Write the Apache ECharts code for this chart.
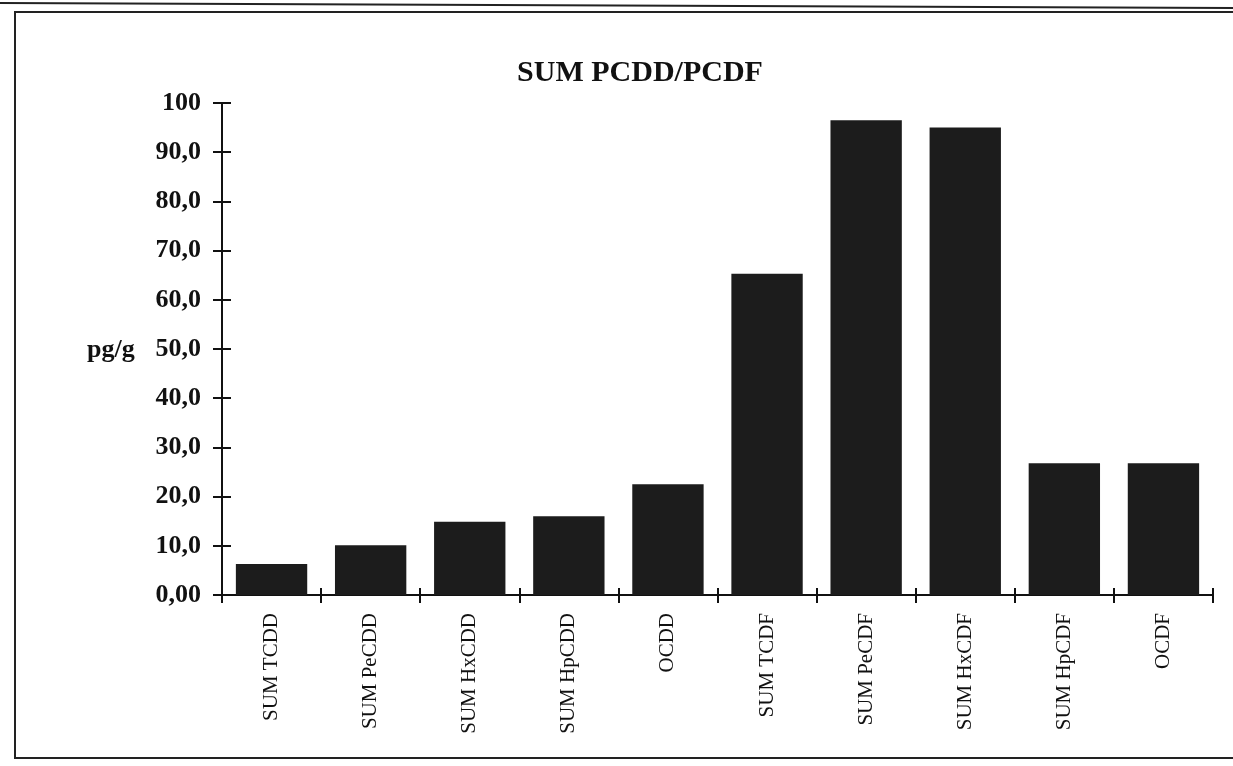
<!DOCTYPE html>
<html>
<head>
<meta charset="utf-8">
<script src="https://cdn.jsdelivr.net/npm/echarts@6/dist/echarts.min.js"></script>
<style>html,body{margin:0;padding:0;background:#fff;}#c{width:1233px;height:766px;}</style>
</head>
<body>
<div id="c"></div>
<script>
const categories = ['SUM TCDD','SUM PeCDD','SUM HxCDD','SUM HpCDD','OCDD','SUM TCDF','SUM PeCDF','SUM HxCDF','SUM HpCDF','OCDF'];
const values = [6.3, 10.1, 14.9, 16.0, 22.5, 65.3, 96.5, 95.0, 26.8, 26.8];
const yTickLabels = {0:'0,00',10:'10,0',20:'20,0',30:'30,0',40:'40,0',50:'50,0',60:'60,0',70:'70,0',80:'80,0',90:'90,0',100:'100'};
const titleText = 'SUM PCDD/PCDF';
const unitText = 'pg/g';

const chart = echarts.init(document.getElementById('c'), null, {renderer:'canvas'});
const serif = '"Liberation Serif", "DejaVu Serif", serif';
chart.setOption({
  animation:false,
  backgroundColor:'#fff',
  title:{text:titleText,left:635,top:53,textAlign:'center',textStyle:{fontFamily:serif,fontWeight:'bold',fontSize:30,color:'#111'}},
  grid:{left:222,right:20,top:103,bottom:171},
  xAxis:[{
    type:'category',data:categories,
    axisLine:{lineStyle:{color:'#111',width:2}},
    axisTick:{show:true,length:8,lineStyle:{color:'#111',width:2}},
    axisLabel:{rotate:90,margin:18,fontFamily:serif,fontSize:21,color:'#111'}
  },{
    type:'category',data:categories,position:'bottom',
    axisLine:{show:false},
    axisTick:{show:true,inside:true,length:7,lineStyle:{color:'#111',width:2}},
    axisLabel:{show:false}
  }],
  yAxis:[{
    type:'value',min:0,max:100,interval:10,
    axisLine:{show:true,lineStyle:{color:'#111',width:2}},
    axisTick:{show:true,length:9,lineStyle:{color:'#111',width:2}},
    splitLine:{show:false},
    axisLabel:{margin:21,fontFamily:serif,fontWeight:'bold',fontSize:26,color:'#111',formatter:v=>yTickLabels[v]}
  },{
    type:'value',min:0,max:100,interval:10,position:'left',
    axisLine:{show:false},
    axisTick:{show:true,inside:true,length:9,lineStyle:{color:'#111',width:2}},
    splitLine:{show:false},axisLabel:{show:false}
  }],
  series:[{
    type:'bar',data:values,barCategoryGap:'28%',
    itemStyle:{color:'#1c1c1c'}
  }],
  graphic:[
    {type:'text',left:87,top:337,style:{text:unitText,font:'bold 26px "Liberation Serif", serif',fill:'#111'}},
    {type:'rect',shape:{x:15,y:12,width:1240,height:746},style:{fill:'none',stroke:'#222',lineWidth:2}},
    {type:'line',shape:{x1:0,y1:3,x2:1233,y2:8},style:{stroke:'#222',lineWidth:2}}
  ]
});
</script>
</body>
</html>
